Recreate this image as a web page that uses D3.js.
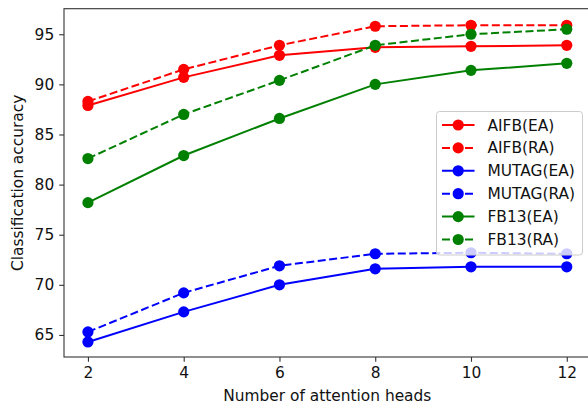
<!DOCTYPE html>
<html>
<head>
<meta charset="utf-8">
<script src="https://cdn.jsdelivr.net/npm/d3@7"></script>
<style>
  body { margin: 0; background: #fff; }
  svg { display: block; font-family: "DejaVu Sans", sans-serif; }
</style>
</head>
<body>
<svg id="chart"></svg>
<script>
const heads = [2, 4, 6, 8, 10, 12];

const aifbEA = [87.9, 90.7, 92.9, 93.7, 93.8, 93.9];
const aifbRA = [88.3, 91.5, 93.9, 95.8, 95.9, 95.9];
const mutagEA = [64.3, 67.3, 70.0, 71.6, 71.8, 71.8];
const mutagRA = [65.3, 69.2, 71.9, 73.1, 73.2, 73.1];
const fb13EA = [78.2, 82.9, 86.6, 90.0, 91.4, 92.1];
const fb13RA = [82.6, 87.0, 90.4, 93.9, 95.0, 95.5];

const xTicks = [2, 4, 6, 8, 10, 12];
const yTicks = [65, 70, 75, 80, 85, 90, 95];

const seriesNames = ["AIFB(EA)", "AIFB(RA)", "MUTAG(EA)", "MUTAG(RA)", "FB13(EA)", "FB13(RA)"];
const seriesValues = [aifbEA, aifbRA, mutagEA, mutagRA, fb13EA, fb13RA];
const seriesColors = ["#ff0000", "#ff0000", "#0000ff", "#0000ff", "#008000", "#008000"];
const seriesDashed = [false, true, false, true, false, true];

const width = 588, height = 405;
const margin = { top: 8.7, right: -2.7, bottom: 48, left: 64 };
const fontSize = 15.4;

const svg = d3.select("#chart")
    .attr("width", width)
    .attr("height", height);

const x = d3.scaleLinear()
    .domain([1.5, 12.5])
    .range([margin.left, width - margin.right]);

const y = d3.scaleLinear()
    .domain([62.8, 97.55])
    .range([height - margin.bottom, margin.top]);

// axes
const xAxis = svg.append("g")
    .attr("transform", `translate(0, ${height - margin.bottom})`)
    .call(d3.axisBottom(x).tickValues(xTicks).tickSize(4.8).tickPadding(5.5).tickFormat(d3.format("d")));

const yAxis = svg.append("g")
    .attr("transform", `translate(${margin.left}, 0)`)
    .call(d3.axisLeft(y).tickValues(yTicks).tickSize(4.8).tickPadding(5).tickFormat(d3.format("d")));

[xAxis, yAxis].forEach(ax => {
    ax.select(".domain").remove();
    ax.selectAll("line").attr("stroke", "#333").attr("stroke-width", 1.1);
    ax.selectAll("text").attr("fill", "#111").attr("font-size", fontSize).attr("font-family", "DejaVu Sans");
});

// spines
const spine = svg.append("g").attr("stroke", "#333").attr("stroke-width", 1.1).attr("fill", "none");
spine.append("rect")
    .attr("x", margin.left)
    .attr("y", margin.top)
    .attr("width", width - margin.right - margin.left)
    .attr("height", height - margin.bottom - margin.top);

// lines
const line = d3.line()
    .x((d, i) => x(heads[i]))
    .y(d => y(d));

const plot = svg.append("g");
seriesValues.forEach((vals, k) => {
    const g = plot.append("g");
    g.append("path")
        .datum(vals)
        .attr("d", line)
        .attr("fill", "none")
        .attr("stroke", seriesColors[k])
        .attr("stroke-width", 2)
        .attr("stroke-dasharray", seriesDashed[k] ? "8,3.5" : null);
    g.selectAll("circle")
        .data(vals)
        .join("circle")
        .attr("cx", (d, i) => x(heads[i]))
        .attr("cy", d => y(d))
        .attr("r", 5.6)
        .attr("fill", seriesColors[k]);
});

// axis titles
svg.append("text")
    .attr("x", (margin.left + width - margin.right) / 2)
    .attr("y", 401)
    .attr("text-anchor", "middle")
    .attr("font-size", fontSize)
    .attr("fill", "#111")
    .text("Number of attention heads");

svg.append("text")
    .attr("transform", `translate(23, ${(margin.top + height - margin.bottom) / 2}) rotate(-90)`)
    .attr("text-anchor", "middle")
    .attr("font-size", fontSize)
    .attr("fill", "#111")
    .text("Classification accuracy");

// legend
const legend = svg.append("g").attr("transform", "translate(436.5, 111.5)");
legend.append("rect")
    .attr("width", 146)
    .attr("height", 143.5)
    .attr("rx", 3)
    .attr("fill", "#fff")
    .attr("fill-opacity", 0.8)
    .attr("stroke", "#ccc")
    .attr("stroke-width", 1);

seriesNames.forEach((name, k) => {
    const row = legend.append("g").attr("transform", `translate(0, ${13.5 + k * 22.9})`);
    row.append("line")
        .attr("x1", 5.5).attr("x2", 38)
        .attr("stroke", seriesColors[k])
        .attr("stroke-width", 2)
        .attr("stroke-dasharray", seriesDashed[k] ? "8,3.5" : null);
    row.append("circle")
        .attr("cx", 21.7)
        .attr("r", 5.6)
        .attr("fill", seriesColors[k]);
    row.append("text")
        .attr("x", 51)
        .attr("dy", "0.36em")
        .attr("font-size", fontSize)
        .attr("fill", "#111")
        .text(name);
});
</script>
</body>
</html>
